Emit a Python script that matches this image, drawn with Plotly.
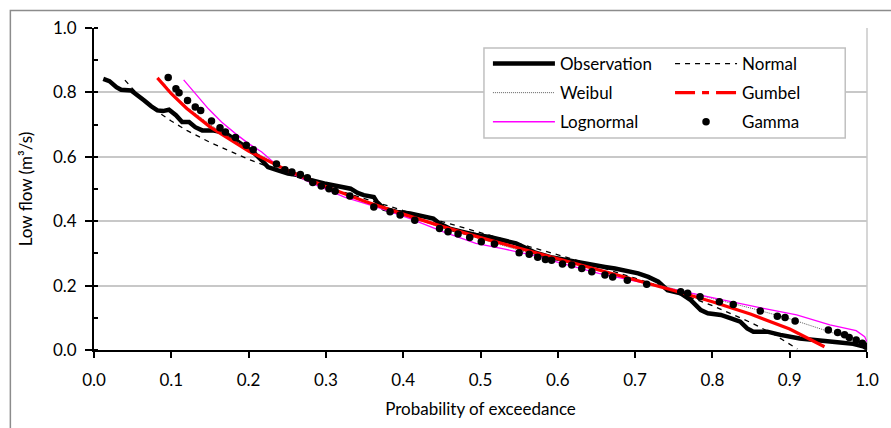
import plotly.graph_objects as go

# ---------------- data ----------------
obs_p = [0.012, 0.020, 0.029, 0.035, 0.048, 0.054, 0.065, 0.074, 0.082, 0.089, 0.097, 0.106, 0.114, 0.123,
         0.131, 0.140, 0.153, 0.165, 0.174, 0.187, 0.200, 0.208, 0.217, 0.225, 0.238, 0.251, 0.264, 0.281,
         0.298, 0.315, 0.332, 0.341, 0.349, 0.362, 0.366, 0.375, 0.392, 0.409, 0.426, 0.439, 0.447, 0.460,
         0.477, 0.494, 0.512, 0.529, 0.546, 0.556, 0.571, 0.593, 0.610, 0.627, 0.644, 0.661, 0.674, 0.691,
         0.704, 0.717, 0.730, 0.742, 0.759, 0.772, 0.785, 0.794, 0.811, 0.824, 0.836, 0.845, 0.853, 0.871,
         0.888, 0.913, 0.939, 0.965, 0.982, 0.994, 1.000]
obs_q = [0.842, 0.835, 0.816, 0.808, 0.806, 0.796, 0.775, 0.757, 0.744, 0.742, 0.746, 0.729, 0.708, 0.708,
         0.692, 0.682, 0.682, 0.677, 0.667, 0.646, 0.625, 0.610, 0.589, 0.568, 0.558, 0.548, 0.543, 0.527,
         0.517, 0.509, 0.501, 0.488, 0.481, 0.475, 0.460, 0.439, 0.429, 0.424, 0.415, 0.408, 0.393, 0.377,
         0.367, 0.357, 0.351, 0.341, 0.331, 0.320, 0.302, 0.287, 0.279, 0.274, 0.266, 0.258, 0.253, 0.246,
         0.238, 0.227, 0.212, 0.186, 0.176, 0.155, 0.124, 0.114, 0.109, 0.098, 0.088, 0.067, 0.057, 0.057,
         0.047, 0.036, 0.028, 0.023, 0.019, 0.010, 0.008]

norm_p = [0.04, 0.06, 0.08, 0.10, 0.12, 0.15, 0.20, 0.25, 0.30, 0.35, 0.40, 0.45, 0.50, 0.55, 0.60, 0.65,
          0.70, 0.75, 0.80, 0.85, 0.88, 0.90, 0.91]
norm_q = [0.838, 0.785, 0.744, 0.711, 0.682, 0.645, 0.592, 0.547, 0.507, 0.469, 0.433, 0.399, 0.365, 0.331,
          0.297, 0.261, 0.223, 0.183, 0.138, 0.085, 0.048, 0.019, 0.003]

weib_p = [0.09, 0.10, 0.12, 0.15, 0.20, 0.25, 0.30, 0.35, 0.40, 0.45, 0.50, 0.55, 0.60, 0.65, 0.70, 0.75,
          0.80, 0.85, 0.90, 0.94, 0.97, 0.99, 1.00]
weib_q = [0.830, 0.800, 0.755, 0.700, 0.625, 0.560, 0.510, 0.460, 0.420, 0.380, 0.345, 0.310, 0.280, 0.250,
          0.220, 0.190, 0.160, 0.130, 0.097, 0.066, 0.042, 0.020, 0.010]

gum_p = [0.082, 0.10, 0.12, 0.15, 0.20, 0.25, 0.30, 0.35, 0.40, 0.45, 0.50, 0.55, 0.60, 0.65, 0.70, 0.75,
         0.80, 0.85, 0.90, 0.945]
gum_q = [0.845, 0.796, 0.750, 0.693, 0.618, 0.558, 0.507, 0.462, 0.422, 0.384, 0.349, 0.316, 0.283, 0.251,
         0.219, 0.185, 0.150, 0.111, 0.065, 0.010]

logn_p = [0.116, 0.131, 0.148, 0.165, 0.183, 0.200, 0.217, 0.234, 0.250, 0.280, 0.324, 0.366, 0.409, 0.452,
          0.494, 0.530, 0.567, 0.610, 0.653, 0.700, 0.738, 0.781, 0.824, 0.866, 0.909, 0.952, 0.986, 0.997,
          1.000]
logn_q = [0.839, 0.796, 0.749, 0.708, 0.672, 0.641, 0.615, 0.579, 0.555, 0.520, 0.475, 0.444, 0.408, 0.367,
          0.331, 0.314, 0.295, 0.266, 0.238, 0.214, 0.194, 0.171, 0.150, 0.129, 0.109, 0.078, 0.060, 0.041,
          0.026]

gam_p = [0.096, 0.106, 0.110, 0.121, 0.131, 0.138, 0.152, 0.163, 0.170, 0.183, 0.197, 0.206, 0.236, 0.247,
         0.256, 0.267, 0.276, 0.283, 0.294, 0.304, 0.312, 0.331, 0.362, 0.383, 0.396, 0.415, 0.447, 0.458,
         0.471, 0.486, 0.501, 0.518, 0.550, 0.563, 0.574, 0.584, 0.592, 0.606, 0.618, 0.631, 0.644, 0.661,
         0.671, 0.690, 0.715, 0.759, 0.768, 0.784, 0.809, 0.827, 0.862, 0.884, 0.894, 0.907, 0.950, 0.962,
         0.971, 0.977, 0.986, 0.994, 0.999]
gam_q = [0.846, 0.811, 0.799, 0.775, 0.755, 0.744, 0.711, 0.690, 0.677, 0.660, 0.636, 0.622, 0.578, 0.560,
         0.553, 0.545, 0.535, 0.520, 0.509, 0.501, 0.493, 0.478, 0.444, 0.429, 0.419, 0.403, 0.377, 0.367,
         0.360, 0.349, 0.336, 0.329, 0.302, 0.297, 0.288, 0.281, 0.279, 0.267, 0.264, 0.253, 0.243, 0.233,
         0.227, 0.217, 0.204, 0.181, 0.176, 0.165, 0.150, 0.141, 0.121, 0.105, 0.101, 0.090, 0.062, 0.054,
         0.047, 0.039, 0.031, 0.021, 0.012]

x_ticks = [0.0, 0.1, 0.2, 0.3, 0.4, 0.5, 0.6, 0.7, 0.8, 0.9, 1.0]
y_ticks = [0.0, 0.2, 0.4, 0.6, 0.8, 1.0]

FONT = "Lato"
W, H = 891, 428
ML, MR, MT, MB = 94, 16, 28, 78
PW, PH = W - ML - MR, H - MT - MB


def px_x(px):
    return (px - ML) / PW


def px_y(py):
    return (H - MB - py) / PH


fig = go.Figure()

# legend column 1
fig.add_trace(go.Scatter(x=obs_p, y=obs_q, mode="lines", name="Observation",
                         line=dict(color="black", width=4.5), legend="legend", legendgroup="a"))
fig.add_trace(go.Scatter(x=weib_p, y=weib_q, mode="lines", name="Weibul",
                         line=dict(color="#606060", width=1, dash="1px,1px"), legend="legend", legendgroup="b"))
fig.add_trace(go.Scatter(x=logn_p, y=logn_q, mode="lines", name="Lognormal",
                         line=dict(color="#FF00FF", width=1.3), legend="legend", legendgroup="c"))
# legend column 2
fig.add_trace(go.Scatter(x=norm_p, y=norm_q, mode="lines", name="Normal",
                         line=dict(color="black", width=1.3, dash="5px,5px"), legend="legend2", legendgroup="d"))
fig.add_trace(go.Scatter(x=gum_p, y=gum_q, mode="lines", name="Gumbel", showlegend=False,
                         line=dict(color="#FF0000", width=3.2), legendgroup="e"))
fig.add_trace(go.Scatter(x=[None], y=[None], mode="lines", name="Gumbel",
                         line=dict(color="#FF0000", width=3.2, dash="20px,7px,7px,7px"),
                         legend="legend2", legendgroup="e"))
fig.add_trace(go.Scatter(x=gam_p, y=gam_q, mode="markers", name="Gamma",
                         marker=dict(color="black", size=7.5), legend="legend2", legendgroup="f"))

legend_common = dict(
    font=dict(family=FONT, size=17, color="black"),
    bgcolor="rgba(0,0,0,0)", borderwidth=0,
    itemwidth=62, tracegroupgap=4, yanchor="top", xanchor="left",
    orientation="v", itemclick=False, itemdoubleclick=False,
)

fig.update_layout(
    width=W, height=H,
    margin=dict(l=ML, r=MR, t=MT, b=MB),
    paper_bgcolor="white", plot_bgcolor="white",
    font=dict(family=FONT, size=17, color="black"),
    showlegend=True,
    legend=dict(x=px_x(492), y=px_y(46), **legend_common),
    legend2=dict(x=px_x(676), y=px_y(46), **legend_common),
    xaxis=dict(
        range=[0, 1.0], tickvals=x_ticks, ticktext=[f"{v:.1f}" for v in x_ticks],
        showline=True, linecolor="black", linewidth=1.8,
        ticks="outside", ticklen=6, tickwidth=1.5, tickcolor="black",
        ticklabelstandoff=8,
        showgrid=False, zeroline=False,
        title=dict(text="Probability of exceedance", font=dict(family=FONT, size=17), standoff=14),
        tickfont=dict(family=FONT, size=17),
    ),
    yaxis=dict(
        range=[0, 1.0], tickvals=y_ticks, ticktext=[f"{v:.1f}" for v in y_ticks],
        showline=True, linecolor="black", linewidth=1.8,
        ticks="outside", ticklen=7, tickwidth=1.5, tickcolor="black",
        ticklabelstandoff=5,
        minor=dict(dtick=0.1, ticks="inside", ticklen=4, tickwidth=1.5, tickcolor="black", showgrid=False),
        showgrid=True, gridcolor="#C8C8C8", gridwidth=1.5,
        zeroline=False,
        title=dict(text="Low flow (m³/s)", font=dict(family=FONT, size=17), standoff=16),
        tickfont=dict(family=FONT, size=17),
    ),
    shapes=[
        dict(type="rect", xref="paper", yref="paper",
             x0=px_x(9.5), x1=px_x(900), y0=px_y(440), y1=px_y(10.5),
             line=dict(color="#8C8C8C", width=1.5), fillcolor="rgba(0,0,0,0)", layer="below"),
        dict(type="line", xref="paper", yref="paper", x0=1, x1=1, y0=0, y1=1,
             line=dict(color="#C8C8C8", width=1.5), layer="below"),
        dict(type="rect", xref="paper", yref="paper",
             x0=px_x(488), x1=px_x(853), y0=px_y(138), y1=px_y(48),
             line=dict(color="#C0C0C0", width=1.5), fillcolor="white", layer="above"),
    ],
)

fig.write_html("out.html")
